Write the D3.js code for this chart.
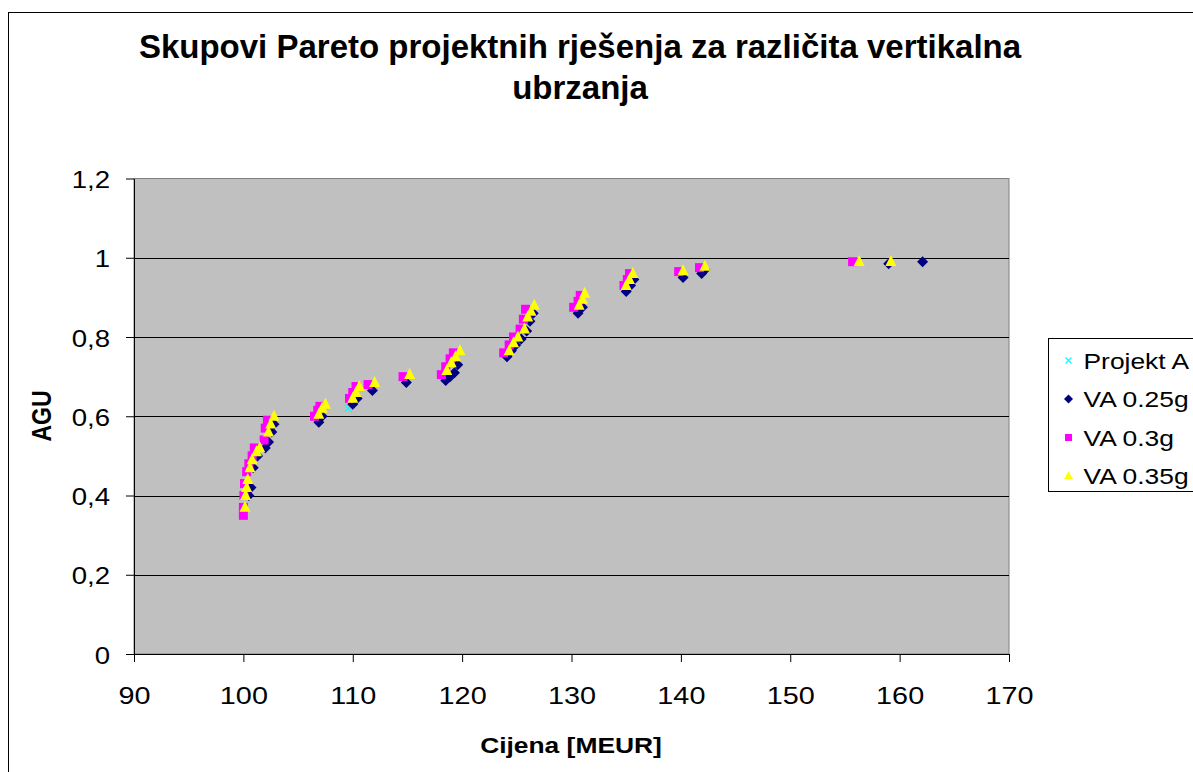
<!DOCTYPE html>
<html>
<head>
<meta charset="utf-8">
<script src="https://cdn.jsdelivr.net/npm/d3@7"></script>
<style>
  body { margin: 0; background: #fff; }
  svg { display: block; }
  text { font-family: "Liberation Sans", Arial, sans-serif; fill: #000; }
</style>
</head>
<body>
<svg id="chart" width="1193" height="772"></svg>
<script>
// ---- data: cost [MEUR] vs AGU for Pareto sets ----
const titleLines = ["Skupovi Pareto projektnih rješenja za različita vertikalna", "ubrzanja"];
const xTicks = [90, 100, 110, 120, 130, 140, 150, 160, 170];
const yTicks = [0, 0.2, 0.4, 0.6, 0.8, 1, 1.2];
const seriesNames = ["Projekt A", "VA 0.25g", "VA 0.3g", "VA 0.35g"];

const projektA = [[109.6, 0.62]];

const va025 = [
  [100.5, 0.40], [100.7, 0.42], [100.9, 0.47], [101.3, 0.50], [102.0, 0.52],
  [102.3, 0.535], [102.6, 0.56], [102.8, 0.58],
  [106.9, 0.585], [107.2, 0.60],
  [110.0, 0.63], [110.4, 0.645],
  [111.8, 0.665],
  [114.9, 0.685],
  [118.5, 0.69], [118.9, 0.70], [119.3, 0.71], [119.6, 0.73],
  [124.1, 0.75], [124.5, 0.765], [124.9, 0.78], [125.4, 0.795], [125.9, 0.815], [126.2, 0.84], [126.5, 0.86],
  [130.6, 0.86], [131.0, 0.875],
  [135.0, 0.915], [135.4, 0.93], [135.7, 0.945],
  [140.2, 0.95],
  [141.9, 0.96], [142.2, 0.97],
  [159.0, 0.985], [162.1, 0.99]
];

const va03 = [
  [100.0, 0.35], [100.0, 0.37], [100.05, 0.40], [100.1, 0.43], [100.3, 0.46], [100.5, 0.48],
  [100.8, 0.50], [101.0, 0.52], [101.9, 0.54], [102.0, 0.57], [102.2, 0.59],
  [106.5, 0.60], [106.8, 0.615], [107.0, 0.625],
  [109.7, 0.645], [110.0, 0.66], [110.3, 0.675],
  [111.4, 0.68],
  [114.6, 0.70],
  [118.1, 0.705], [118.5, 0.725], [118.9, 0.745], [119.2, 0.76],
  [123.8, 0.76], [124.3, 0.78], [124.7, 0.80], [125.3, 0.82], [125.6, 0.845], [125.8, 0.87],
  [130.2, 0.875], [130.6, 0.89], [130.8, 0.905],
  [134.8, 0.93], [135.1, 0.945], [135.3, 0.96],
  [139.8, 0.965],
  [141.7, 0.975],
  [155.7, 0.99]
];

const va035 = [
  [100.15, 0.37], [100.2, 0.40], [100.3, 0.42], [100.4, 0.44], [100.6, 0.47], [100.8, 0.49],
  [101.2, 0.51], [101.5, 0.52], [102.3, 0.56], [102.5, 0.58], [102.8, 0.60],
  [106.9, 0.605], [107.2, 0.62], [107.5, 0.63],
  [110.0, 0.645], [110.3, 0.66], [110.6, 0.675],
  [112.0, 0.685],
  [115.2, 0.705],
  [118.6, 0.715], [119.0, 0.735], [119.4, 0.75], [119.8, 0.765],
  [124.3, 0.765], [124.7, 0.785], [125.1, 0.80], [125.7, 0.82], [126.0, 0.85], [126.3, 0.865], [126.6, 0.88],
  [130.7, 0.88], [131.0, 0.895], [131.2, 0.91],
  [135.0, 0.93], [135.3, 0.945], [135.6, 0.96],
  [140.2, 0.967],
  [142.2, 0.978],
  [156.3, 0.99], [159.2, 0.99]
];

// ---- layout ----
const plot = { left: 134, right: 1009, top: 178.5, bottom: 654 };
const sx = 1.2; // horizontal stretch used for axis and legend text

const svg = d3.select("#chart");

// chart frame
svg.append("rect")
  .attr("x", 8.5).attr("y", 12.5)
  .attr("width", 1300).attr("height", 900)
  .attr("fill", "#fff").attr("stroke", "#000").attr("stroke-width", 1);

const x = d3.scaleLinear().domain([90, 170]).range([plot.left, plot.right]);
const y = d3.scaleLinear().domain([0, 1.2]).range([plot.bottom, plot.top]);

// plot area
svg.append("rect")
  .attr("x", plot.left).attr("y", plot.top)
  .attr("width", plot.right - plot.left).attr("height", plot.bottom - plot.top)
  .attr("fill", "#C0C0C0").attr("stroke", "#808080").attr("stroke-width", 1);

// horizontal gridlines
svg.append("g").selectAll("line")
  .data(yTicks.filter(v => v > 0 && v < 1.2))
  .join("line")
  .attr("x1", plot.left).attr("x2", plot.right)
  .attr("y1", d => Math.round(y(d)) + 0.5).attr("y2", d => Math.round(y(d)) + 0.5)
  .attr("stroke", "#000").attr("stroke-width", 1);

// y axis
const fmtY = v => String(+v.toFixed(1)).replace(".", ",");
const yAxis = svg.append("g")
  .attr("transform", `translate(${plot.left},0)`)
  .call(d3.axisLeft(y).tickValues(yTicks).tickSize(8).tickSizeOuter(0).tickFormat(fmtY));
yAxis.select(".domain").attr("stroke", "#000");
yAxis.selectAll(".tick line").attr("stroke", "#000");
yAxis.selectAll(".tick text")
  .attr("x", -20).attr("dy", null).attr("y", 9)
  .attr("transform", `scale(${sx},1)`)
  .style("font-size", "23px").attr("font-family", null);

// x axis
const xAxis = svg.append("g")
  .attr("transform", `translate(0,${plot.bottom})`)
  .call(d3.axisBottom(x).tickValues(xTicks).tickSize(8).tickSizeOuter(0).tickFormat(d3.format("d")));
xAxis.select(".domain").attr("stroke", "#000");
xAxis.selectAll(".tick line").attr("stroke", "#000");
xAxis.selectAll(".tick text")
  .attr("y", 50).attr("dy", null)
  .attr("transform", `scale(${sx},1)`)
  .style("font-size", "24px").attr("font-family", null);
svg.selectAll(".tick text").attr("fill", "#000");

// title
svg.append("g").selectAll("text")
  .data(titleLines)
  .join("text")
  .attr("x", 580).attr("y", (d, i) => 58 + i * 41)
  .attr("text-anchor", "middle")
  .style("font-size", "33px").style("font-weight", "bold")
  .text(d => d);

// axis titles
svg.append("text")
  .attr("transform", `translate(571,753) scale(${sx},1)`)
  .attr("text-anchor", "middle")
  .style("font-size", "22px").style("font-weight", "bold")
  .text("Cijena [MEUR]");
svg.append("text")
  .attr("transform", `translate(51,416) scale(${sx},1) rotate(-90)`)
  .attr("text-anchor", "middle")
  .style("font-size", "23px").style("font-weight", "bold")
  .text("AGU");

// marker shapes
const diamondPath = r => `M0,${-r}L${r},0L0,${r}L${-r},0Z`;
const squarePath = s => `M${-s / 2},${-s / 2}h${s}v${s}h${-s}Z`;
const trianglePath = (w, h) => `M0,${-h * 0.6}L${w / 2},${h * 0.4}L${-w / 2},${h * 0.4}Z`;
const crossPath = r => `M${-r},${-r}L${r},${r}M${r},${-r}L${-r},${r}`;

const series = [
  { name: seriesNames[0], data: projektA, path: crossPath(3.5), fill: "none", stroke: "#00FFFF", legendPath: crossPath(3) },
  { name: seriesNames[1], data: va025, path: diamondPath(5.5), fill: "#000080", stroke: "none", legendPath: diamondPath(4.5) },
  { name: seriesNames[2], data: va03, path: squarePath(9), fill: "#FF00FF", stroke: "none", legendPath: squarePath(7) },
  { name: seriesNames[3], data: va035, path: trianglePath(11, 11), fill: "#FFFF00", stroke: "none", legendPath: trianglePath(9, 8) }
];

series.forEach(s => {
  svg.append("g").selectAll("path")
    .data(s.data)
    .join("path")
    .attr("transform", d => `translate(${x(d[0])},${y(d[1])})`)
    .attr("d", s.path)
    .attr("fill", s.fill)
    .attr("stroke", s.stroke)
    .attr("stroke-width", 1.3);
});

// legend
const legend = svg.append("g").attr("transform", "translate(1048.5,338.5)");
legend.append("rect")
  .attr("width", 200).attr("height", 153)
  .attr("fill", "#fff").attr("stroke", "#000").attr("stroke-width", 1);
const rows = legend.selectAll("g.row")
  .data(series)
  .join("g")
  .attr("class", "row")
  .attr("transform", (d, i) => `translate(0,${22 + i * 38.5})`);
rows.append("path")
  .attr("transform", "translate(20,0)")
  .attr("d", d => d.legendPath)
  .attr("fill", d => d.fill)
  .attr("stroke", d => d.stroke)
  .attr("stroke-width", 1.2);
rows.append("text")
  .attr("transform", `translate(35,8) scale(${sx},1)`)
  .style("font-size", "22px")
  .text(d => d.name);
</script>
</body>
</html>
